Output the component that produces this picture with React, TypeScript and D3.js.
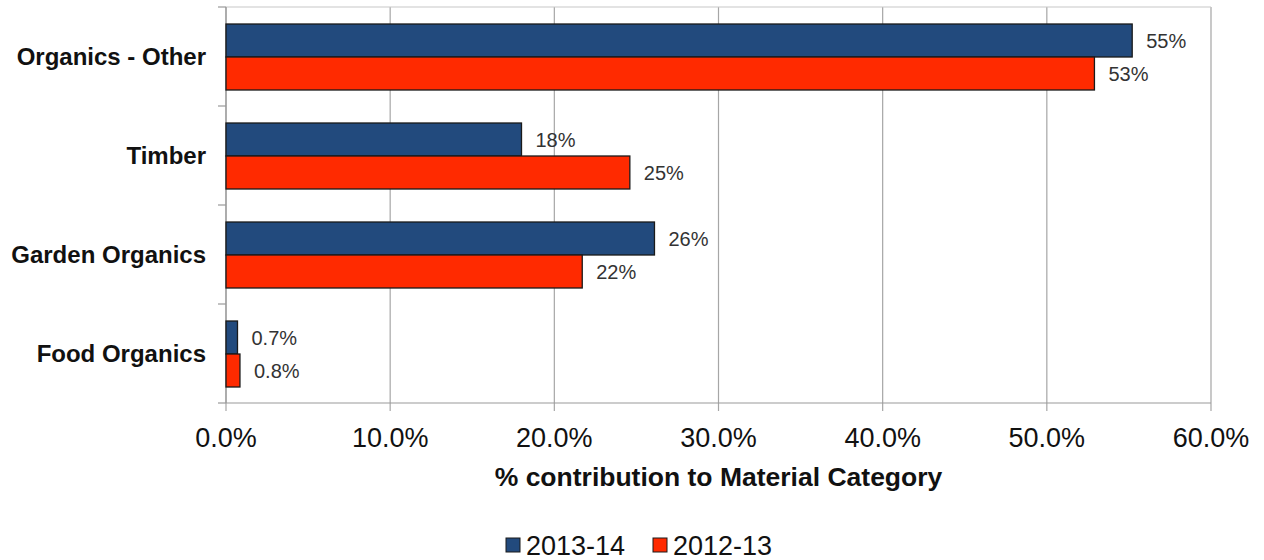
import React from "react";
import * as d3 from "d3";

const categories = ["Organics - Other", "Timber", "Garden Organics", "Food Organics"];
const series2013 = [55.2, 18.0, 26.1, 0.7];
const series2012 = [52.9, 24.6, 21.7, 0.85];
const labels2013 = ["55%", "18%", "26%", "0.7%"];
const labels2012 = ["53%", "25%", "22%", "0.8%"];
const seriesNames = ["2013-14", "2012-13"];
const colors = ["#224a7d", "#ff2a00"];
const xTicks = [0, 10, 20, 30, 40, 50, 60];

export default function App() {
  const W = 1264, H = 560;
  const left = 226, right = 1211, top = 7, bottom = 403;
  const x = d3.scaleLinear().domain([0, 60]).range([left, right]);
  const y = d3.scaleBand<string>().domain(categories).range([top, bottom]).paddingInner(0).paddingOuter(0);
  const barOffset = y.bandwidth() * (17 / 99);
  const barH = y.bandwidth() * (33 / 99);
  const font = "'Liberation Sans', Arial, sans-serif";
  const seriesData = [series2013, series2012];
  const seriesLabels = [labels2013, labels2012];
  return (
    <svg width={W} height={H} style={{ position: "absolute", left: 0, top: 0, background: "#fff" }} fontFamily={font}>
      {xTicks.map((t) => (
        <line key={"g" + t} x1={x(t)} x2={x(t)} y1={top} y2={bottom + 8} stroke="#a6a6a6" strokeWidth={1.2} />
      ))}
      <line x1={left} x2={right} y1={top} y2={top} stroke="#c8c8c8" strokeWidth={1.2} />
      <line x1={right} x2={right} y1={top} y2={bottom} stroke="#c8c8c8" strokeWidth={1.2} />
      <line x1={left} x2={right} y1={bottom} y2={bottom} stroke="#999" strokeWidth={1.2} />
      <line x1={left} x2={left} y1={top} y2={bottom} stroke="#999" strokeWidth={1.2} />
      {[...categories.map((c) => y(c)!), bottom].map((yy, i) => (
        <line key={"t" + i} x1={left - 8} x2={left} y1={yy} y2={yy} stroke="#999" strokeWidth={1.2} />
      ))}
      {categories.map((c, ci) => (
        <g key={c}>
          {seriesData.map((s, si) => {
            const by = y(c)! + barOffset + si * barH;
            return (
              <g key={si}>
                <rect x={x(0)} y={by} width={x(s[ci]) - x(0)} height={barH} fill={colors[si]} stroke="#1a1a1a" strokeWidth={1.3} />
                <text x={x(s[ci]) + 14} y={by + barH / 2} dy="0.36em" fontSize={20} fill="#333">{seriesLabels[si][ci]}</text>
              </g>
            );
          })}
          <text x={206} y={y(c)! + y.bandwidth() / 2} dy="0.36em" textAnchor="end" fontSize={24} fontWeight="bold" fill="#111">{c}</text>
        </g>
      ))}
      {xTicks.map((t) => (
        <text key={"l" + t} x={x(t)} y={437} dy="0.36em" textAnchor="middle" fontSize={27} fill="#111">{t.toFixed(1) + "%"}</text>
      ))}
      <text x={(left + right) / 2} y={476} dy="0.36em" textAnchor="middle" fontSize={26.5} fontWeight="bold" fill="#111">% contribution to Material Category</text>
      <g>
        <rect x={506} y={538} width={14} height={14} fill={colors[0]} stroke="#1a1a1a" strokeWidth={1} />
        <text x={526} y={545} dy="0.36em" fontSize={27} fill="#111">{seriesNames[0]}</text>
        <rect x={653} y={538} width={14} height={14} fill={colors[1]} stroke="#1a1a1a" strokeWidth={1} />
        <text x={673} y={545} dy="0.36em" fontSize={27} fill="#111">{seriesNames[1]}</text>
      </g>
    </svg>
  );
}
